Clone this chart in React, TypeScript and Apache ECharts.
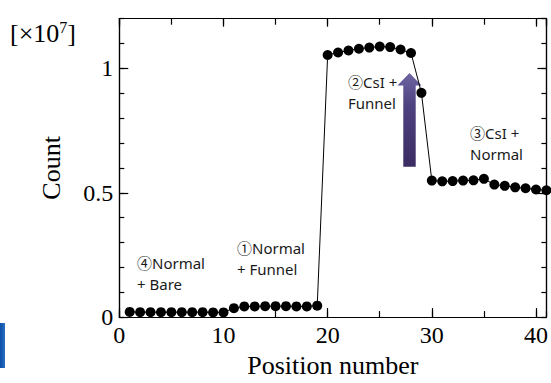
import React, { useEffect, useRef } from "react";
import * as echarts from "echarts";

const positions = [
  1, 2, 3, 4, 5, 6, 7, 8, 9, 10, 11, 12, 13, 14, 15, 16, 17, 18, 19, 20, 21,
  22, 23, 24, 25, 26, 27, 28, 29, 30, 31, 32, 33, 34, 35, 36, 37, 38, 39, 40, 41,
];
const counts = [
  0.021, 0.02, 0.02, 0.02, 0.02, 0.02, 0.02, 0.02, 0.019, 0.019,
  0.036, 0.043, 0.043, 0.044, 0.044, 0.044, 0.043, 0.043, 0.046,
  1.054, 1.064, 1.072, 1.079, 1.084, 1.088, 1.086, 1.076, 1.062, 0.902,
  0.549, 0.546, 0.547, 0.549, 0.55, 0.556, 0.533, 0.528, 0.522, 0.518, 0.513, 0.51,
];
const xTickLabels = ["0", "10", "20", "30", "40"];
const yTickLabels = ["0", "0.5", "1"];

const SERIF = "'Liberation Serif', 'DejaVu Serif', serif";
const SANS = "'Noto Sans', 'Noto Sans CJK JP', sans-serif";

export default function App() {
  const ref = useRef<HTMLDivElement>(null);
  useEffect(() => {
    document.body.style.margin = "0";
    const chart = echarts.init(ref.current!, null, { renderer: "svg" });
    const data = positions.map((p, i) => [p, counts[i]]);
    const xMin = 0, xMax = 41, yMin = 0, yMax = 1.2;
    const lineStyle = { color: "#000", width: 1.2 };
    const xLabelFmt = (v: number) => {
      const s = String(Math.round(v));
      return xTickLabels.includes(s) && Math.abs(v - Math.round(v)) < 1e-6 ? s : "";
    };
    const yLabelFmt = (v: number) => {
      const s = String(Math.round(v * 10) / 10);
      return yTickLabels.includes(s) ? s : "";
    };
    const mkX = (pos: "bottom" | "top", interval: number, len: number, labels: boolean, name?: string) => ({
      type: "value",
      position: pos,
      min: xMin,
      max: xMax,
      interval,
      name,
      nameLocation: "middle",
      nameGap: 33,
      nameTextStyle: { fontFamily: SERIF, fontSize: 26, color: "#000" },
      axisLine: { show: true, onZero: false, lineStyle },
      axisTick: { show: true, inside: true, length: len, lineStyle },
      axisLabel: {
        show: labels,
        formatter: xLabelFmt,
        fontFamily: SERIF,
        fontSize: 24,
        color: "#000",
        margin: 6,
        showMaxLabel: false,
      },
      splitLine: { show: false },
    });
    const mkY = (pos: "left" | "right", interval: number, len: number, labels: boolean, name?: string) => ({
      type: "value",
      position: pos,
      min: yMin,
      max: yMax,
      interval,
      name,
      nameLocation: "middle",
      nameGap: 55,
      nameTextStyle: { fontFamily: SERIF, fontSize: 26, color: "#000" },
      axisLine: { show: true, onZero: false, lineStyle },
      axisTick: { show: true, inside: true, length: len, lineStyle },
      axisLabel: {
        show: labels,
        formatter: yLabelFmt,
        fontFamily: SERIF,
        fontSize: 24,
        color: "#000",
        margin: 6,
        showMaxLabel: false,
      },
      splitLine: { show: false },
    });
    const annot = (x: number, y: number, text: string) => ({
      type: "text",
      x,
      y,
      style: { text, fontFamily: SANS, fontSize: 15, lineHeight: 21, fill: "#1a1a1a" },
    });
    chart.setOption({
      animation: false,
      grid: { left: 119.3, right: 1, top: 18.7, bottom: 59.5, containLabel: false },
      xAxis: [
        mkX("bottom", 10, 9, true, "Position number"),
        mkX("bottom", 5, 6, false),
        mkX("top", 10, 8, false),
        mkX("top", 5, 6, false),
      ],
      yAxis: [
        mkY("left", 0.5, 9, true, "Count"),
        mkY("left", 0.1, 5, false),
        mkY("right", 0.5, 9, false),
        mkY("right", 0.1, 5, false),
      ],
      series: [
        {
          type: "line",
          xAxisIndex: 0,
          yAxisIndex: 0,
          data,
          symbol: "circle",
          symbolSize: 10,
          showSymbol: true,
          itemStyle: { color: "#000" },
          lineStyle: { color: "#000", width: 1 },
          clip: true,
          z: 3,
        },
      ],
      graphic: [
        {
          type: "text",
          x: 10,
          y: 19,
          style: {
            text: "{a|[×10}{s|7}{a|]}",
            rich: {
              a: { fontFamily: SERIF, fontSize: 26, fill: "#000", verticalAlign: "bottom" },
              s: { fontFamily: SERIF, fontSize: 16, fill: "#000", verticalAlign: "top", padding: [0, 0, 11, 0] },
            },
            fill: "#000",
          },
        },
        annot(137, 252, "④Normal\n+ Bare"),
        annot(237, 237, "①Normal\n+ Funnel"),
        annot(348, 71, "②CsI +\nFunnel"),
        annot(470, 122, "③CsI +\nNormal"),
        {
          type: "polygon",
          z: 1,
          shape: {
            points: [
              [409.5, 73],
              [421.5, 85.5],
              [415.7, 85.5],
              [415.7, 166.7],
              [403.3, 166.7],
              [403.3, 85.5],
              [397.5, 85.5],
            ],
          },
          style: {
            fill: new echarts.graphic.LinearGradient(0, 0, 0, 1, [
              { offset: 0, color: "#6f65a3" },
              { offset: 0.35, color: "#4e4180" },
              { offset: 1, color: "#3b2c62" },
            ]),
          },
        },
        {
          type: "rect",
          shape: { x: 0, y: 323, width: 5, height: 45 },
          style: {
            fill: new echarts.graphic.LinearGradient(0, 0, 1, 0, [
              { offset: 0, color: "#0d4fa8" },
              { offset: 1, color: "#2a6dc0" },
            ]),
          },
        },
      ],
    });
    return () => chart.dispose();
  }, []);
  return (
    <div
      ref={ref}
      style={{ position: "absolute", left: 0, top: 0, width: 551, height: 383 }}
    />
  );
}
